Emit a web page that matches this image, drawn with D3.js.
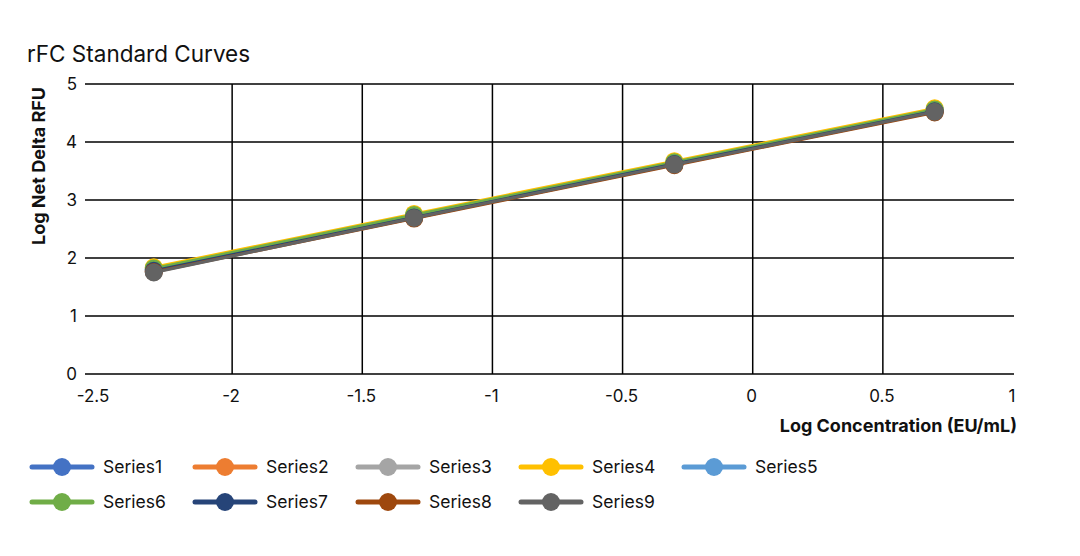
<!DOCTYPE html>
<html><head><meta charset="utf-8">
<script src="https://cdn.jsdelivr.net/npm/d3@7"></script>
<style>body{margin:0;background:#fff;}svg{display:block;font-family:Inter,"Open Sans",sans-serif;}</style>
</head><body>
<svg id="c" width="1080" height="556"></svg>
<script>
const xValues = [-2.301, -1.301, -0.301, 0.699];
const seriesNames = ["Series1","Series2","Series3","Series4","Series5","Series6","Series7","Series8","Series9"];
const seriesColors = ["#4472C4","#ED7D31","#A5A5A5","#FFC000","#5B9BD5","#70AD47","#264478","#9E480E","#636363"];
const s1 = [1.80, 2.72, 3.63, 4.55];
const s2 = [1.77, 2.69, 3.61, 4.52];
const s3 = [1.79, 2.71, 3.63, 4.55];
const s4 = [1.84, 2.76, 3.67, 4.58];
const s5 = [1.80, 2.72, 3.64, 4.55];
const s6 = [1.82, 2.74, 3.65, 4.56];
const s7 = [1.78, 2.70, 3.62, 4.53];
const s8 = [1.76, 2.68, 3.60, 4.51];
const s9 = [1.75, 2.69, 3.61, 4.52];
const seriesValues = [s1,s2,s3,s4,s5,s6,s7,s8,s9];
const xTicks = [-2.5,-2,-1.5,-1,-0.5,0,0.5,1];
const yTicks = [0,1,2,3,4,5];

const svg = d3.select("#c");
const x = d3.scaleLinear().domain([-2.5,1]).range([102,1013]);
const y = d3.scaleLinear().domain([0,5]).range([374,84]);

svg.append("text").attr("x",27).attr("y",62).attr("font-size",22.5).attr("fill","#111").text("rFC Standard Curves");

// horizontal gridlines
svg.append("g").selectAll("line").data(yTicks).join("line")
  .attr("x1",85).attr("x2",1014).attr("y1",d=>y(d)).attr("y2",d=>y(d))
  .attr("stroke","#000").attr("stroke-width",1.5);
// vertical gridlines (interior)
svg.append("g").selectAll("line").data(xTicks.filter(d=>d>-2.5&&d<1)).join("line")
  .attr("x1",d=>x(d)).attr("x2",d=>x(d)).attr("y1",y(5)).attr("y2",y(0))
  .attr("stroke","#000").attr("stroke-width",1.5);

// y tick labels
svg.append("g").selectAll("text").data(yTicks).join("text")
  .attr("x",77).attr("y",d=>y(d)+6).attr("text-anchor","end").attr("font-size",17).attr("fill","#111").text(d=>d);
// x tick labels
svg.append("g").selectAll("text").data(xTicks).join("text")
  .attr("x",d=>x(d)-(d===-2.5?9:1)).attr("y",402).attr("text-anchor","middle").attr("font-size",17).attr("fill","#111")
  .text(d=>String(d));

// axis titles
svg.append("text").attr("transform","translate(45,166) rotate(-90)").attr("text-anchor","middle")
  .attr("font-size",18).attr("font-weight","bold").attr("fill","#111").text("Log Net Delta RFU");
svg.append("text").attr("x",1017).attr("y",432).attr("text-anchor","end")
  .attr("font-size",18).attr("font-weight","bold").attr("fill","#111").text("Log Concentration (EU/mL)");

// series
const line = d3.line().x((d,i)=>x(xValues[i])).y(d=>y(d));
seriesValues.forEach((vals,k)=>{
  const g = svg.append("g");
  g.append("path").attr("d",line(vals)).attr("fill","none").attr("stroke",seriesColors[k]).attr("stroke-width",3);
  g.selectAll("circle").data(vals).join("circle")
    .attr("cx",(d,i)=>x(xValues[i])).attr("cy",d=>y(d)).attr("r",9).attr("fill",seriesColors[k]);
});

// legend
const leg = svg.append("g");
seriesNames.forEach((n,k)=>{
  const col = k%5, row = Math.floor(k/5);
  const lx = 32 + col*163, ly = 467 + row*35;
  leg.append("line").attr("x1",lx).attr("x2",lx+60).attr("y1",ly).attr("y2",ly)
    .attr("stroke",seriesColors[k]).attr("stroke-width",5).attr("stroke-linecap","round");
  leg.append("circle").attr("cx",lx+30).attr("cy",ly).attr("r",9).attr("fill",seriesColors[k]);
  leg.append("text").attr("x",lx+71).attr("y",ly+6).attr("font-size",17.5).attr("fill","#111").text(n);
});
</script>
</body></html>
